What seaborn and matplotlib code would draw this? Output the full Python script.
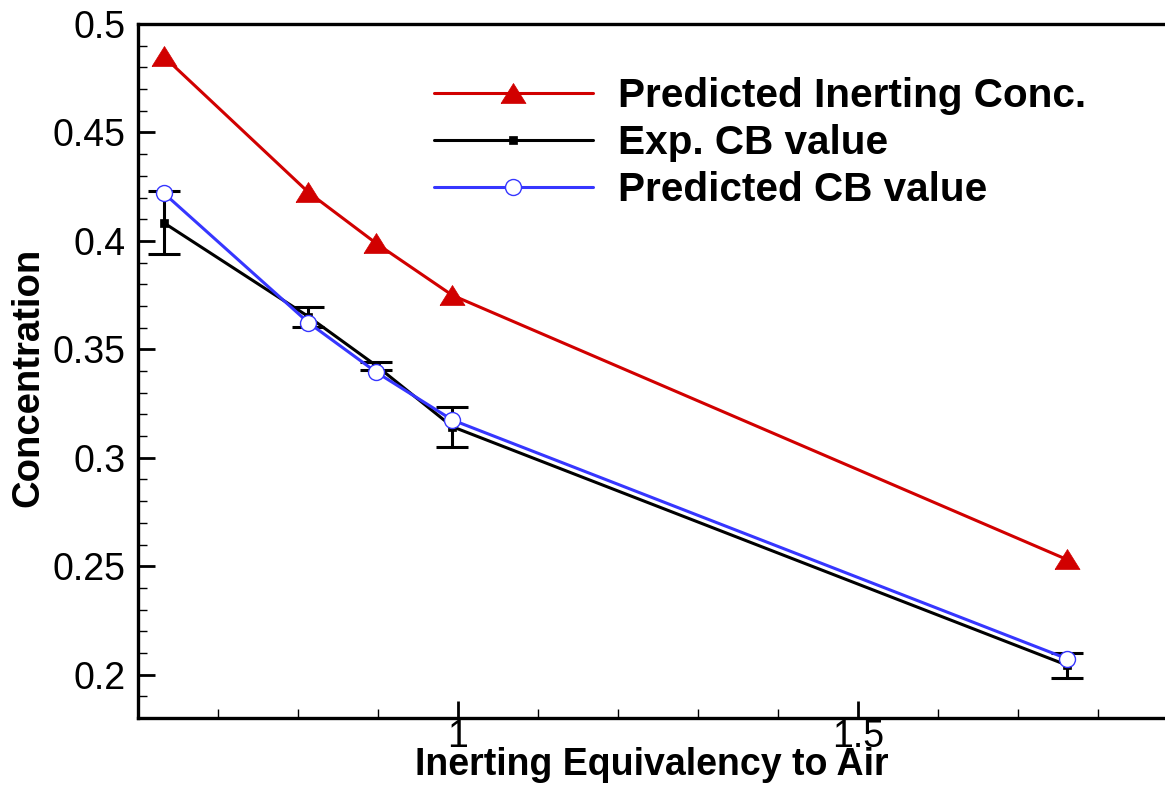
import matplotlib
matplotlib.use("Agg")
import matplotlib.pyplot as plt
from matplotlib.ticker import MultipleLocator, FixedLocator
import seaborn as sns

# Inerting equivalency to air for each agent
equivalency = [0.632, 0.813, 0.898, 0.993, 1.761]

# Concentrations
predicted_inerting = [0.4851, 0.4224, 0.3988, 0.3749, 0.2531]
exp_cb = [0.4084, 0.3651, 0.3424, 0.3143, 0.2044]
exp_cb_err = [0.0145, 0.0046, 0.0019, 0.0092, 0.0058]
predicted_cb = [0.4221, 0.3623, 0.3394, 0.3174, 0.2074]

series_labels = ["Predicted Inerting Conc.", "Exp. CB value", "Predicted CB value"]
x_major_ticks = [1.0, 1.5]
x_tick_labels = ["1", "1.5"]

sns.set_style("white")
plt.rcParams["font.family"] = ["Liberation Sans", "DejaVu Sans"]
plt.rcParams["text.color"] = "black"
plt.rcParams["axes.labelcolor"] = "black"
plt.rcParams["xtick.color"] = "black"
plt.rcParams["ytick.color"] = "black"

RED = "#d10000"
BLUE = "#3636ff"
BLACK = "#000000"

fig = plt.figure(figsize=(11.65, 7.91), dpi=100)
ax = fig.add_axes([138 / 1165, 73 / 791, 1027 / 1165, 694 / 791])

# filled triangle slightly wider than tall
tri = [(-1.0, -0.8), (1.0, -0.8), (0.0, 0.8), (-1.0, -0.8)]

sns.lineplot(x=equivalency, y=predicted_inerting, ax=ax, sort=False,
             color=RED, linewidth=2.2, marker=tri, markersize=18,
             markerfacecolor=RED, markeredgecolor=RED, markeredgewidth=0.5,
             label=series_labels[0], zorder=3)

ax.errorbar(equivalency, exp_cb, yerr=exp_cb_err, fmt="none",
            ecolor=BLACK, elinewidth=2.2, capsize=11.5, capthick=2.2, zorder=4)

sns.lineplot(x=equivalency, y=exp_cb, ax=ax, sort=False,
             color=BLACK, linewidth=2.2, marker="s", markersize=5.5,
             markerfacecolor=BLACK, markeredgecolor=BLACK, markeredgewidth=0.5,
             label=series_labels[1], zorder=4)

sns.lineplot(x=equivalency, y=predicted_cb, ax=ax, sort=False,
             color=BLUE, linewidth=2.2, marker="o", markersize=11.5,
             markerfacecolor="white", markeredgecolor=BLUE, markeredgewidth=1.0,
             label=series_labels[2], zorder=5)

ax.set_xlim(0.6, 0.6 + 1027 / 800)
ax.set_ylim(0.18, 0.5)

ax.xaxis.set_major_locator(FixedLocator(x_major_ticks))
ax.set_xticklabels(x_tick_labels)
ax.xaxis.set_minor_locator(MultipleLocator(0.1))
ax.yaxis.set_major_locator(MultipleLocator(0.05))
ax.yaxis.set_minor_locator(MultipleLocator(0.01))
ax.yaxis.set_major_formatter(plt.FuncFormatter(lambda v, p: f"{v:g}"))

ax.tick_params(axis="both", which="major", direction="in", length=12.3,
               width=2.0, labelsize=27, color="black", labelcolor="black")
ax.tick_params(axis="both", which="minor", direction="in", length=6.5,
               width=1.0, color="black")
ax.tick_params(axis="x", which="both", bottom=True, top=False, pad=1)
ax.tick_params(axis="y", which="both", left=True, right=False, pad=9)

for side in ["left", "bottom", "top"]:
    ax.spines[side].set_visible(True)
    ax.spines[side].set_linewidth(2.4)
    ax.spines[side].set_color("black")
ax.spines["right"].set_visible(False)

ax.set_xlabel("Inerting Equivalency to Air", fontsize=27, fontweight="bold",
              va="baseline", color="black")
ax.xaxis.set_label_coords(0.5, -(775 - 718) / 694)
ax.set_ylabel("Concentration", fontsize=27.5, fontweight="bold", va="center",
              color="black")
ax.yaxis.set_label_coords(-(138 - 28.5) / 1027, (718 - 377) / 694)

leg = ax.legend(loc="upper left", bbox_to_anchor=((434 - 138) / 1027, (718 - 77) / 694),
                frameon=False, borderpad=0, borderaxespad=0,
                handlelength=3.92, handletextpad=0.62, labelspacing=0.22,
                prop={"family": "Liberation Sans", "weight": "bold", "size": 29.2})
for t in leg.get_texts():
    t.set_color("black")

fig.savefig("out.png", dpi=100, facecolor="white")
